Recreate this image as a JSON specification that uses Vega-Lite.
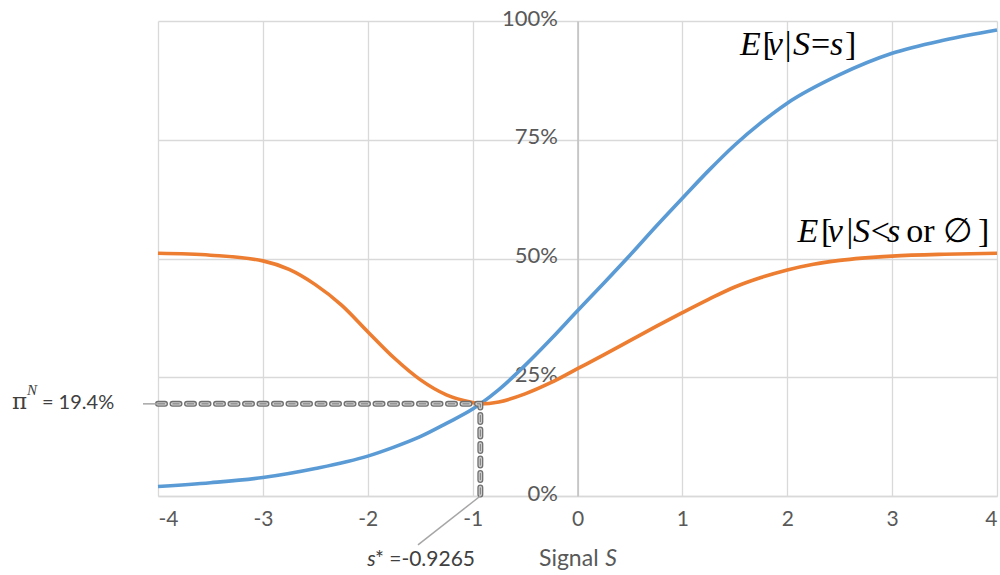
{
  "$schema": "https://vega.github.io/schema/vega-lite/v6.json",
  "width": 839,
  "height": 475,
  "autosize": {"type": "none"},
  "padding": {"left": 158, "top": 21, "right": 3, "bottom": 79},
  "background": "white",
  "config": {"view": {"stroke": null}, "font": "Lato"},
  "datasets": {
    "curves": [
      {"series": "full", "s": -4, "v": 0.020},
      {"series": "full", "s": -3.5, "v": 0.028},
      {"series": "full", "s": -3, "v": 0.039},
      {"series": "full", "s": -2.5, "v": 0.058},
      {"series": "full", "s": -2, "v": 0.084},
      {"series": "full", "s": -1.75, "v": 0.103},
      {"series": "full", "s": -1.5, "v": 0.125},
      {"series": "full", "s": -1.25, "v": 0.153},
      {"series": "full", "s": -1, "v": 0.183},
      {"series": "full", "s": -0.9265, "v": 0.194},
      {"series": "full", "s": -0.75, "v": 0.224},
      {"series": "full", "s": -0.5, "v": 0.275},
      {"series": "full", "s": -0.25, "v": 0.331},
      {"series": "full", "s": 0, "v": 0.390},
      {"series": "full", "s": 0.25, "v": 0.448},
      {"series": "full", "s": 0.5, "v": 0.507},
      {"series": "full", "s": 0.75, "v": 0.568},
      {"series": "full", "s": 1, "v": 0.627},
      {"series": "full", "s": 1.25, "v": 0.685},
      {"series": "full", "s": 1.5, "v": 0.739},
      {"series": "full", "s": 1.75, "v": 0.786},
      {"series": "full", "s": 2, "v": 0.827},
      {"series": "full", "s": 2.5, "v": 0.887},
      {"series": "full", "s": 3, "v": 0.932},
      {"series": "full", "s": 3.5, "v": 0.960},
      {"series": "full", "s": 4, "v": 0.981},
      {"series": "pool", "s": -4, "v": 0.511},
      {"series": "pool", "s": -3.5, "v": 0.507},
      {"series": "pool", "s": -3, "v": 0.495},
      {"series": "pool", "s": -2.75, "v": 0.477},
      {"series": "pool", "s": -2.5, "v": 0.445},
      {"series": "pool", "s": -2.25, "v": 0.402},
      {"series": "pool", "s": -2, "v": 0.346},
      {"series": "pool", "s": -1.75, "v": 0.291},
      {"series": "pool", "s": -1.5, "v": 0.245},
      {"series": "pool", "s": -1.25, "v": 0.213},
      {"series": "pool", "s": -1, "v": 0.197},
      {"series": "pool", "s": -0.9265, "v": 0.194},
      {"series": "pool", "s": -0.75, "v": 0.198},
      {"series": "pool", "s": -0.5, "v": 0.215},
      {"series": "pool", "s": -0.25, "v": 0.239},
      {"series": "pool", "s": 0, "v": 0.268},
      {"series": "pool", "s": 0.25, "v": 0.297},
      {"series": "pool", "s": 0.5, "v": 0.327},
      {"series": "pool", "s": 0.75, "v": 0.357},
      {"series": "pool", "s": 1, "v": 0.386},
      {"series": "pool", "s": 1.25, "v": 0.414},
      {"series": "pool", "s": 1.5, "v": 0.440},
      {"series": "pool", "s": 1.75, "v": 0.460},
      {"series": "pool", "s": 2, "v": 0.476},
      {"series": "pool", "s": 2.25, "v": 0.488},
      {"series": "pool", "s": 2.5, "v": 0.496},
      {"series": "pool", "s": 3, "v": 0.505},
      {"series": "pool", "s": 3.5, "v": 0.509},
      {"series": "pool", "s": 4, "v": 0.511}
    ],
    "dash": [
      {"o": 1, "s": -4, "v": 0.194},
      {"o": 2, "s": -0.9265, "v": 0.194},
      {"o": 3, "s": -0.9265, "v": 0}
    ],
    "leaders": [
      {"s": -4.143, "v": 0.194, "s2": -4, "v2": 0.194},
      {"s": -0.9265, "v": 0, "s2": -1.521, "v2": -0.103}
    ],
    "serifItalic": [
      {"t": "E", "s": 1.550, "v": 0.928},
      {"t": "v", "s": 1.815, "v": 0.928},
      {"t": "S", "s": 2.055, "v": 0.928},
      {"t": "s", "s": 2.407, "v": 0.928},
      {"t": "E", "s": 2.098, "v": 0.535},
      {"t": "v", "s": 2.387, "v": 0.535},
      {"t": "S", "s": 2.627, "v": 0.535},
      {"t": "s", "s": 2.951, "v": 0.535}
    ],
    "serifUpright": [
      {"t": "[", "s": 1.765, "v": 0.928},
      {"t": "|", "s": 1.975, "v": 0.928},
      {"t": "=", "s": 2.226, "v": 0.928},
      {"t": "]", "s": 2.550, "v": 0.928},
      {"t": "[", "s": 2.322, "v": 0.535},
      {"t": "|", "s": 2.566, "v": 0.535},
      {"t": "<", "s": 2.795, "v": 0.535},
      {"t": "or", "s": 3.135, "v": 0.535},
      {"t": "∅", "s": 3.486, "v": 0.535},
      {"t": "]", "s": 3.819, "v": 0.535}
    ],
    "piSym": [{"t": "π", "s": -5.392, "v": 0.183}],
    "piSup": [{"t": "N", "s": -5.249, "v": 0.2126}],
    "sansLeft": [
      {"t": "= 19.4%", "s": -5.107, "v": 0.183}
    ],
    "sansBottom": [
      {"t": "Signal", "s": -0.367, "v": -0.1474}
    ],
    "sansRight": [{"t": "* =-0.9265", "s": -0.977, "v": -0.1474}],
    "sansItalicLeft": [{"t": "s", "s": -2.005, "v": -0.1474}],
    "sansItalicRight": [{"t": "S", "s": 0.377, "v": -0.1474}]
  },
  "layer": [
    {
      "data": {"name": "curves"},
      "mark": {"type": "line", "strokeWidth": 3.6, "interpolate": "monotone"},
      "encoding": {
        "x": {
          "field": "s", "type": "quantitative",
          "scale": {"domain": [-4, 4], "nice": false, "zero": false},
          "axis": {
            "values": [-4, -3, -2, -1, 0, 1, 2, 3, 4], "labelExpr": "'' + datum.value", "title": null,
            "grid": true, "gridColor": "#d9d9d9", "gridWidth": 1.3,
            "domain": true, "domainColor": "#d9d9d9", "domainWidth": 1.3,
            "ticks": false, "labelFont": "Lato", "labelFontSize": 21, "labelColor": "#595959",
            "labelPadding": 12
          }
        },
        "y": {
          "field": "v", "type": "quantitative",
          "scale": {"domain": [0, 1], "nice": false, "zero": false},
          "axis": {
            "values": [0, 0.25, 0.5, 0.75, 1], "format": ".0%", "title": null,
            "grid": true, "gridColor": "#d9d9d9", "gridWidth": 1.3,
            "offset": -419.5, "domain": true, "domainColor": "#bfbfbf", "domainWidth": 1.5,
            "ticks": false, "labelFont": "Lato", "labelFontSize": 22, "labelColor": "#595959",
            "labelPadding": 20, "labelOffset": -3
          }
        },
        "color": {
          "field": "series", "type": "nominal",
          "scale": {"domain": ["full", "pool"], "range": ["#5B9BD5", "#ED7D31"]},
          "legend": null
        }
      }
    },
    {
      "data": {"name": "dash"},
      "mark": {"type": "line", "stroke": "#707070", "strokeWidth": 6, "strokeCap": "round", "strokeDash": [7, 7.5]},
      "encoding": {
        "x": {"field": "s", "type": "quantitative"},
        "y": {"field": "v", "type": "quantitative"},
        "order": {"field": "o", "type": "quantitative"}
      }
    },
    {
      "data": {"name": "dash"},
      "mark": {"type": "line", "stroke": "#cccccc", "strokeWidth": 3.4, "strokeCap": "round", "strokeDash": [7, 7.5]},
      "encoding": {
        "x": {"field": "s", "type": "quantitative"},
        "y": {"field": "v", "type": "quantitative"},
        "order": {"field": "o", "type": "quantitative"}
      }
    },
    {
      "data": {"name": "dash"},
      "mark": {"type": "line", "stroke": "#7a7a7a", "strokeWidth": 1, "strokeCap": "butt", "strokeDash": [7, 7.5]},
      "encoding": {
        "x": {"field": "s", "type": "quantitative"},
        "y": {"field": "v", "type": "quantitative"},
        "order": {"field": "o", "type": "quantitative"}
      }
    },
    {
      "data": {"name": "leaders"},
      "mark": {"type": "rule", "stroke": "#a6a6a6", "strokeWidth": 1.5},
      "encoding": {
        "x": {"field": "s", "type": "quantitative"},
        "y": {"field": "v", "type": "quantitative"},
        "x2": {"field": "s2"},
        "y2": {"field": "v2"}
      }
    },
    {
      "data": {"name": "serifItalic"},
      "mark": {"type": "text", "font": "Liberation Serif", "fontStyle": "italic", "fontSize": 34, "align": "left", "baseline": "alphabetic", "color": "#000000"},
      "encoding": {
        "x": {"field": "s", "type": "quantitative"},
        "y": {"field": "v", "type": "quantitative"},
        "text": {"field": "t"}
      }
    },
    {
      "data": {"name": "serifUpright"},
      "mark": {"type": "text", "font": "Liberation Serif", "fontSize": 34, "align": "left", "baseline": "alphabetic", "color": "#000000"},
      "encoding": {
        "x": {"field": "s", "type": "quantitative"},
        "y": {"field": "v", "type": "quantitative"},
        "text": {"field": "t"}
      }
    },
    {
      "data": {"name": "piSym"},
      "mark": {"type": "text", "font": "DejaVu Serif", "fontSize": 23, "align": "left", "baseline": "alphabetic", "color": "#404040"},
      "encoding": {
        "x": {"field": "s", "type": "quantitative"},
        "y": {"field": "v", "type": "quantitative"},
        "text": {"field": "t"}
      }
    },
    {
      "data": {"name": "piSup"},
      "mark": {"type": "text", "font": "Liberation Serif", "fontStyle": "italic", "fontSize": 15, "align": "left", "baseline": "alphabetic", "color": "#404040"},
      "encoding": {
        "x": {"field": "s", "type": "quantitative"},
        "y": {"field": "v", "type": "quantitative"},
        "text": {"field": "t"}
      }
    },
    {
      "data": {"name": "sansLeft"},
      "mark": {"type": "text", "font": "Lato", "fontSize": 20, "align": "left", "baseline": "alphabetic", "color": "#404040"},
      "encoding": {
        "x": {"field": "s", "type": "quantitative"},
        "y": {"field": "v", "type": "quantitative"},
        "text": {"field": "t"}
      }
    },
    {
      "data": {"name": "sansBottom"},
      "mark": {"type": "text", "font": "Lato", "fontSize": 23, "align": "left", "baseline": "alphabetic", "color": "#595959"},
      "encoding": {
        "x": {"field": "s", "type": "quantitative"},
        "y": {"field": "v", "type": "quantitative"},
        "text": {"field": "t"}
      }
    },
    {
      "data": {"name": "sansRight"},
      "mark": {"type": "text", "font": "Lato", "fontSize": 21, "align": "right", "baseline": "alphabetic", "color": "#404040"},
      "encoding": {
        "x": {"field": "s", "type": "quantitative"},
        "y": {"field": "v", "type": "quantitative"},
        "text": {"field": "t"}
      }
    },
    {
      "data": {"name": "sansItalicLeft"},
      "mark": {"type": "text", "font": "Lato", "fontStyle": "italic", "fontSize": 21, "align": "left", "baseline": "alphabetic", "color": "#404040"},
      "encoding": {
        "x": {"field": "s", "type": "quantitative"},
        "y": {"field": "v", "type": "quantitative"},
        "text": {"field": "t"}
      }
    },
    {
      "data": {"name": "sansItalicRight"},
      "mark": {"type": "text", "font": "Lato", "fontStyle": "italic", "fontSize": 23, "align": "right", "baseline": "alphabetic", "color": "#595959"},
      "encoding": {
        "x": {"field": "s", "type": "quantitative"},
        "y": {"field": "v", "type": "quantitative"},
        "text": {"field": "t"}
      }
    }
  ]
}
